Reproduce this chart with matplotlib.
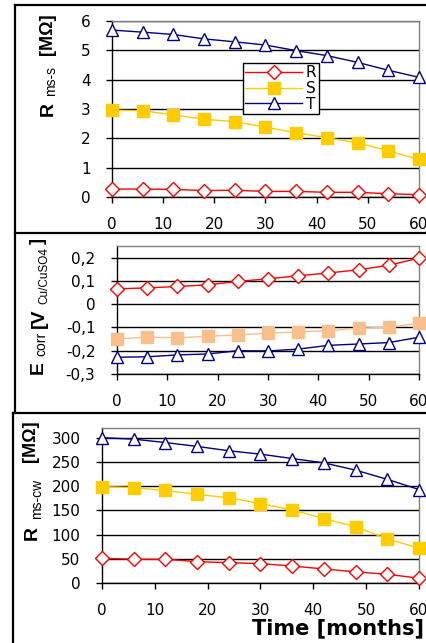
import matplotlib
matplotlib.use("Agg")
import matplotlib.pyplot as plt
from matplotlib.lines import Line2D

# ---------------- data ----------------
months = [0, 6, 12, 18, 24, 30, 36, 42, 48, 54, 60]

rmss_R = [0.27, 0.27, 0.26, 0.22, 0.23, 0.19, 0.19, 0.16, 0.16, 0.11, 0.08]
rmss_S = [2.96, 2.94, 2.80, 2.65, 2.57, 2.38, 2.19, 2.02, 1.85, 1.57, 1.28]
rmss_T = [5.69, 5.62, 5.54, 5.39, 5.29, 5.18, 4.99, 4.82, 4.59, 4.32, 4.08]

ecorr_R = [0.066, 0.070, 0.076, 0.083, 0.098, 0.109, 0.122, 0.134, 0.148, 0.167, 0.198]
ecorr_S = [-0.149, -0.142, -0.144, -0.138, -0.132, -0.125, -0.119, -0.114, -0.103, -0.099, -0.082]
ecorr_T = [-0.228, -0.226, -0.218, -0.214, -0.200, -0.201, -0.193, -0.177, -0.171, -0.165, -0.142]

rmscw_R = [51, 49, 49, 44, 42, 40, 35, 29, 23, 18, 10]
rmscw_S = [199, 197, 191, 183, 176, 164, 151, 133, 116, 91, 72]
rmscw_T = [300, 297, 290, 282, 273, 266, 257, 248, 233, 214, 193]

series_labels = ["R", "S", "T"]
x_ticks = [0, 10, 20, 30, 40, 50, 60]
x_ticklabels = ["0", "10", "20", "30", "40", "50", "60"]
y1_ticks = [0, 1, 2, 3, 4, 5, 6]
y1_ticklabels = ["0", "1", "2", "3", "4", "5", "6"]
y2_ticks = [-0.3, -0.2, -0.1, 0.0, 0.1, 0.2]
y2_ticklabels = ["-0,3", "-0,2", "-0,1", "0", "0,1", "0,2"]
y3_ticks = [0, 50, 100, 150, 200, 250, 300]
y3_ticklabels = ["0", "50", "100", "150", "200", "250", "300"]

# ---------------- layout helpers ----------------
W, H = 427, 643
fig = plt.figure(figsize=(W / 100, H / 100), dpi=100)
fig.patch.set_facecolor("white")


def fx(px):
    return px / W


def fy(py):
    return 1 - py / H


def add_axes(left, top, right, bottom):
    return fig.add_axes([fx(left), fy(bottom), (right - left) / W, (bottom - top) / H])


RED = "#FF0000"
GOLD = "#FFCC00"
PEACH = "#F9C08C"
NAVY = "#000080"
TICKFONT = dict(family="DejaVu Sans", size=11)


def style_axes(ax, yticks, yticklabels, ylim):
    ax.set_xlim(0, 60)
    ax.set_ylim(*ylim)
    ax.set_xticks(x_ticks)
    ax.set_xticklabels(x_ticklabels, fontdict=TICKFONT)
    ax.set_yticks(yticks)
    ax.set_yticklabels(yticklabels, fontdict=TICKFONT)
    ax.tick_params(axis="both", direction="out", length=4.5, width=1, color="black")
    ax.tick_params(axis="y", pad=11)
    ax.tick_params(axis="x", pad=10)
    ax.grid(axis="y", color="black", linewidth=1)
    ax.set_axisbelow(True)
    for s in ("top", "right"):
        ax.spines[s].set_color("#808080")
        ax.spines[s].set_linewidth(1)
    for s in ("left", "bottom"):
        ax.spines[s].set_color("black")
        ax.spines[s].set_linewidth(1)


def plot_series(ax, R, S, T, scol):
    hR, = ax.plot(months, R, color=RED, lw=1, marker="D", ms=7, mfc="white",
                  mec=RED, mew=1, clip_on=False, zorder=3, label=series_labels[0])
    hS, = ax.plot(months, S, color=scol, lw=1, marker="s", ms=9, mfc=scol,
                  mec=scol, clip_on=False, zorder=3, label=series_labels[1])
    hT, = ax.plot(months, T, color=NAVY, lw=1, marker="^", ms=8.5, mfc="white",
                  mec=NAVY, mew=1, clip_on=False, zorder=3, label=series_labels[2])
    return hR, hS, hT


# ---------------- panel 1 ----------------
ax1 = add_axes(112, 21, 419, 197)
style_axes(ax1, y1_ticks, y1_ticklabels, (0, 6))
plot_series(ax1, rmss_R, rmss_S, rmss_T, GOLD)
leg = ax1.legend(loc="upper left", bbox_to_anchor=(fx(243), fy(63)),
                 bbox_transform=fig.transFigure, fancybox=False, edgecolor="black",
                 framealpha=1, borderaxespad=0, handlelength=3.7, labelspacing=0.05,
                 borderpad=0.15, handletextpad=0.25, numpoints=1,
                 prop=dict(family="DejaVu Sans", size=11))
leg.get_frame().set_linewidth(1)

# ---------------- panel 2 ----------------
ax2 = add_axes(117, 246, 419, 374)
style_axes(ax2, y2_ticks, y2_ticklabels, (-0.3, 0.25))
plot_series(ax2, ecorr_R, ecorr_S, ecorr_T, PEACH)

# ---------------- panel 3 ----------------
ax3 = add_axes(102, 428, 419, 583)
style_axes(ax3, y3_ticks, y3_ticklabels, (0, 320))
plot_series(ax3, rmscw_R, rmscw_S, rmscw_T, GOLD)

# ---------------- y labels (rotated pieces) ----------------
LB = dict(family="Liberation Sans", weight="bold", rotation=90, ha="center", va="center")
LS = dict(family="Liberation Sans", rotation=90, ha="center", va="center")

# panel 1
fig.text(fx(48), fy(109), "R", size=14, **LB)
fig.text(fx(51), fy(81), "ms-s", size=10, **LS)
fig.text(fx(48), fy(34), "[MΩ]", size=13, **LB)

# panel 2
fig.text(fx(38), fy(368), "E", size=14, **LB)
fig.text(fx(41), fy(344), "corr", size=10, **LS)
fig.text(fx(39), fy(318), "[V", size=14, **LB)
fig.text(fx(44), fy(276), "Cu/CuSO4", size=8.5, **LS)
fig.text(fx(38), fy(241), "]", size=13, **LB)

# panel 3
fig.text(fx(32), fy(533), "R", size=14, **LB)
fig.text(fx(37), fy(499), "ms-cw", size=10, **LS)
fig.text(fx(31), fy(441), "[MΩ]", size=13, **LB)

# x label
fig.text(fx(252), fy(628), "Time [months]", family="DejaVu Sans", weight="bold",
         size=15, ha="left", va="center")

# ---------------- panel frames ----------------
def fline(x0, y0, x1, y1, lw=1.6):
    fig.add_artist(Line2D([fx(x0), fx(x1)], [fy(y0), fy(y1)], color="black",
                          lw=lw, transform=fig.transFigure))


fline(15, 5, 440, 5)
fline(15, 5, 15, 413)
fline(15, 233, 440, 233)
fline(13, 413, 440, 413)
fline(13, 413, 13, 650)

fig.savefig("out.png", dpi=100, facecolor="white")
